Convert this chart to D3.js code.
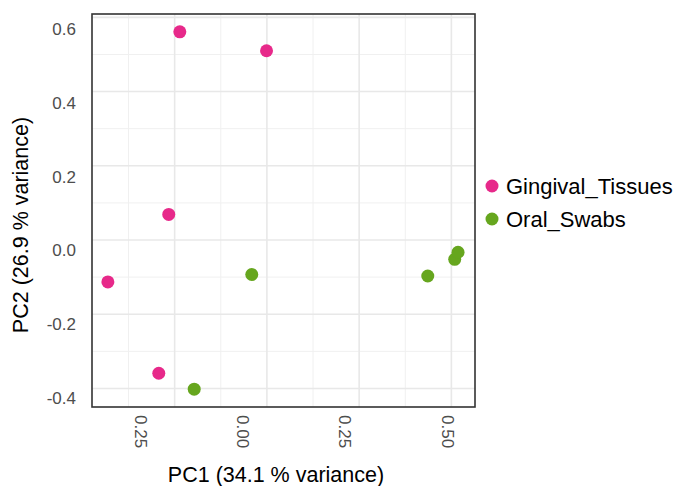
<!DOCTYPE html>
<html>
<head>
<meta charset="utf-8">
<script src="https://cdn.jsdelivr.net/npm/d3@7"></script>
<style>
  body { margin: 0; background: #fff; }
  text { font-family: "Liberation Sans", Arial, sans-serif; }
</style>
</head>
<body>
<div id="pca"></div>
<script>
// PCA scores
const groups = ["Gingival_Tissues", "Oral_Swabs"];
const colors = ["#e7298a", "#66a61e"];

const pc1 = [-0.236, -0.001, -0.266, -0.431, -0.293, -0.041, 0.436, 0.509, 0.518, -0.197];
const pc2 = [0.561, 0.510, 0.069, -0.113, -0.359, -0.093, -0.097, -0.052, -0.033, -0.402];
const group = ["Gingival_Tissues", "Gingival_Tissues", "Gingival_Tissues", "Gingival_Tissues", "Gingival_Tissues",
               "Oral_Swabs", "Oral_Swabs", "Oral_Swabs", "Oral_Swabs", "Oral_Swabs"];

const xTicks = [-0.25, 0, 0.25, 0.5];
const xTickLabels = ["0.25", "0.00", "0.25", "0.50"];
const yTicks = [-0.4, -0.2, 0, 0.2, 0.4, 0.6];
const yTickLabels = ["-0.4", "-0.2", "0.0", "0.2", "0.4", "0.6"];

// panel box
const width = 691, height = 486;
const pLeft = 92, pRight = 475, pTop = 14, pBottom = 407;

const svg = d3.select("#pca")
    .append("svg")
    .attr("width", width)
    .attr("height", height);

const x = d3.scaleLinear()
    .domain([-0.474, 0.564])
    .range([pLeft, pRight]);

const y = d3.scaleLinear()
    .domain([-0.45, 0.609])
    .range([pBottom, pTop]);

// in the original the tick labels sit a little off the grid lines
const xLab = d3.scaleLinear().domain([-0.25, 0.5]).range([140, 447]);
const yLab = d3.scaleLinear().domain([-0.4, 0.6]).range([398, 29]);

const color = d3.scaleOrdinal().domain(groups).range(colors);

// minor grid (midpoints between major ticks)
const xMinor = [-0.375, -0.125, 0.125, 0.375];
const yMinor = [-0.3, -0.1, 0.1, 0.3, 0.5];

const grid = svg.append("g");
grid.selectAll(".xminor").data(xMinor).enter()
    .append("line")
    .attr("x1", d => x(d)).attr("x2", d => x(d))
    .attr("y1", pTop).attr("y2", pBottom)
    .attr("stroke", "#f0f0f0").attr("stroke-width", 1);
grid.selectAll(".yminor").data(yMinor).enter()
    .append("line")
    .attr("x1", pLeft).attr("x2", pRight)
    .attr("y1", d => y(d)).attr("y2", d => y(d))
    .attr("stroke", "#f0f0f0").attr("stroke-width", 1);
grid.selectAll(".xmajor").data(xTicks).enter()
    .append("line")
    .attr("x1", d => x(d)).attr("x2", d => x(d))
    .attr("y1", pTop).attr("y2", pBottom)
    .attr("stroke", "#e8e8e8").attr("stroke-width", 1.6);
grid.selectAll(".ymajor").data(yTicks).enter()
    .append("line")
    .attr("x1", pLeft).attr("x2", pRight)
    .attr("y1", d => y(d)).attr("y2", d => y(d))
    .attr("stroke", "#e8e8e8").attr("stroke-width", 1.6);

// axes, no tick marks
const xAxis = svg.append("g")
    .attr("transform", "translate(0," + pBottom + ")")
    .call(d3.axisBottom(xLab).tickValues(xTicks).tickSize(0)
        .tickFormat((d, i) => xTickLabels[i]));
xAxis.select(".domain").remove();
xAxis.selectAll("text")
    .attr("transform", "rotate(90)")
    .attr("x", 8).attr("y", 0).attr("dy", "0.35em")
    .style("text-anchor", "start")
    .style("font-size", "17px")
    .style("fill", "#4d4d4d");

const yAxis = svg.append("g")
    .attr("transform", "translate(" + pLeft + ",0)")
    .call(d3.axisLeft(yLab).tickValues(yTicks).tickSize(0)
        .tickFormat((d, i) => yTickLabels[i]));
yAxis.select(".domain").remove();
yAxis.selectAll("text")
    .attr("x", -16)
    .style("font-size", "17px")
    .style("fill", "#4d4d4d");

// panel border
svg.append("rect")
    .attr("x", pLeft).attr("y", pTop)
    .attr("width", pRight - pLeft).attr("height", pBottom - pTop)
    .attr("fill", "none")
    .attr("stroke", "#333")
    .attr("stroke-width", 1.6);

// points
svg.append("g")
    .selectAll("circle")
    .data(pc1).enter()
    .append("circle")
    .attr("cx", d => x(d))
    .attr("cy", (d, i) => y(pc2[i]))
    .attr("r", 6.5)
    .style("fill", (d, i) => color(group[i]));

// axis titles
svg.append("text")
    .attr("x", 276).attr("y", 482)
    .attr("text-anchor", "middle")
    .style("font-size", "21.5px")
    .style("fill", "#000")
    .text("PC1 (34.1 % variance)");

svg.append("text")
    .attr("transform", "translate(28,225) rotate(-90)")
    .attr("text-anchor", "middle")
    .style("font-size", "21.5px")
    .style("fill", "#000")
    .text("PC2 (26.9 % variance)");

// legend
const legend = svg.append("g")
    .selectAll("g")
    .data(groups).enter()
    .append("g")
    .attr("transform", (d, i) => "translate(492," + (186 + i * 33) + ")");
legend.append("circle")
    .attr("r", 6.5)
    .style("fill", d => color(d));
legend.append("text")
    .attr("x", 14).attr("dy", "0.35em")
    .style("font-size", "22px")
    .style("fill", "#000")
    .text(d => d);
</script>
</body>
</html>
